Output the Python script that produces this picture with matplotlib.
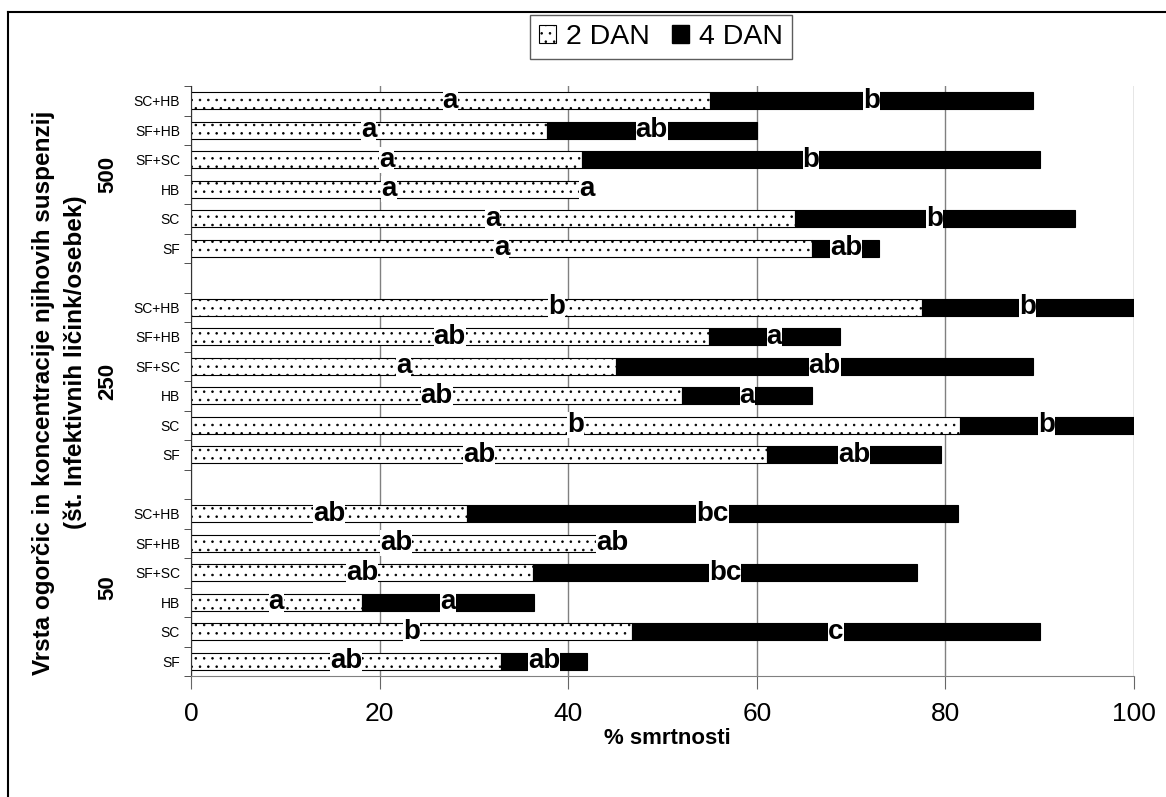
import numpy as np
import matplotlib
matplotlib.use('Agg')
import matplotlib.pyplot as plt
from matplotlib.patches import Patch
from matplotlib.lines import Line2D
from matplotlib.transforms import blended_transform_factory

plt.rcParams['font.family'] = ['Liberation Sans', 'DejaVu Sans']
plt.rcParams['hatch.linewidth'] = 0.6

# podatki (% smrtnosti), odčitani z grafa
koncentracije = ['500', '250', '50']
ogorcice = ['SC+HB', 'SF+HB', 'SF+SC', 'HB', 'SC', 'SF']

dan2_500 = [55.0, 37.7, 41.5, 42.0, 64.0, 65.9]
dan4_500 = [34.3, 22.3, 48.5, 0.0, 29.7, 7.1]
crke2_500 = ['a', 'a', 'a', 'a', 'a', 'a']
crke4_500 = ['b', 'ab', 'b', 'a', 'b', 'ab']

dan2_250 = [77.5, 54.9, 45.1, 52.1, 81.5, 61.1]
dan4_250 = [22.5, 13.9, 44.2, 13.8, 18.5, 18.4]
crke2_250 = ['b', 'ab', 'a', 'ab', 'b', 'ab']
crke4_250 = ['b', 'a', 'ab', 'a', 'b', 'ab']

dan2_50 = [29.3, 43.5, 36.3, 18.1, 46.8, 32.9]
dan4_50 = [52.0, 2.3, 40.7, 18.3, 43.2, 9.1]
crke2_50 = ['ab', 'ab', 'ab', 'a', 'b', 'ab']
crke4_50 = ['bc', 'ab', 'bc', 'a', 'c', 'ab']

dan2 = [dan2_500, dan2_250, dan2_50]
dan4 = [dan4_500, dan4_250, dan4_50]
crke2 = [crke2_500, crke2_250, crke2_50]
crke4 = [crke4_500, crke4_250, crke4_50]

W, H = 1166, 797
fig = plt.figure(figsize=(W / 100, H / 100), dpi=100)
ax = fig.add_axes([191 / W, 1 - 676 / H, (1134 - 191) / W, (676 - 86) / H])

visina = 0.58
pozicije = []
for g in range(3):
    y = np.arange(6) + g * 7
    pozicije.extend(y)
    ax.barh(y, dan2[g], height=visina, color='white', edgecolor='black',
            hatch='..', linewidth=0.8, zorder=2)
    ax.barh(y, dan4[g], left=dan2[g], height=visina, color='black',
            edgecolor='black', linewidth=0.8, zorder=2)
    for j in range(6):
        ax.text(dan2[g][j] / 2, y[j], crke2[g][j], ha='center', va='center',
                fontsize=20, fontweight='bold', zorder=4,
                bbox=dict(facecolor='white', edgecolor='none', pad=0))
        ax.text(dan2[g][j] + dan4[g][j] / 2, y[j], crke4[g][j], ha='center',
                va='center', fontsize=20, fontweight='bold', zorder=4,
                bbox=dict(facecolor='white', edgecolor='none', pad=0))

ax.set_xlim(0, 100)
ax.set_ylim(19.5, -0.5)
ax.set_xticks([0, 20, 40, 60, 80, 100])
ax.tick_params(axis='x', labelsize=19, length=9, color='#666666', pad=10)
ax.set_yticks(pozicije)
ax.set_yticklabels(ogorcice * 3, fontsize=10)
ax.set_yticks(np.arange(-0.5, 20, 1), minor=True)
ax.tick_params(axis='y', which='major', length=0, pad=8)
ax.tick_params(axis='y', which='minor', length=5, color='#333333')
ax.grid(axis='x', color='#808080', linewidth=1)
ax.set_axisbelow(True)
for s in ['top', 'right']:
    ax.spines[s].set_visible(False)
ax.spines['bottom'].set_color('#808080')
ax.spines['left'].set_color('#333333')

# oznake koncentracij
tr = blended_transform_factory(fig.transFigure, ax.transData)
for g, k in enumerate(koncentracije):
    fig.text(108 / W, g * 7 + 2.5, k, transform=tr, rotation=90, ha='center',
             va='center', fontsize=16, fontweight='bold')

fig.text(44 / W, 1 - 393 / H, 'Vrsta ogorčic in koncentracije njihovih suspenzij',
         rotation=90, ha='center', va='center', fontsize=17.5, fontweight='bold')
fig.text(75 / W, 1 - 362 / H, '(št. Infektivnih ličink/osebek)',
         rotation=90, ha='center', va='center', fontsize=17.5, fontweight='bold')
fig.text(667 / W, 1 - 738 / H, '% smrtnosti', ha='center', va='center',
         fontsize=16, fontweight='bold')

roc = [Patch(facecolor='white', edgecolor='black', hatch='..', linewidth=0.8),
       Patch(facecolor='black', edgecolor='black')]
fig.legend(roc, ['2 DAN', '4 DAN'], loc='center', bbox_to_anchor=(661 / W, 1 - 37 / H),
           ncol=2, fontsize=20.5, frameon=True, fancybox=False, edgecolor='#333333',
           handlelength=0.6, handleheight=0.6, handletextpad=0.35,
           columnspacing=0.8, borderpad=0.3, borderaxespad=0)

# okvir slike
fig.add_artist(Line2D([8 / W, 8 / W], [0, 1 - 12 / H], color='black', linewidth=1.5))
fig.add_artist(Line2D([8 / W, 1], [1 - 12 / H, 1 - 12 / H], color='black', linewidth=1.5))

fig.savefig('out.png', dpi=100)
